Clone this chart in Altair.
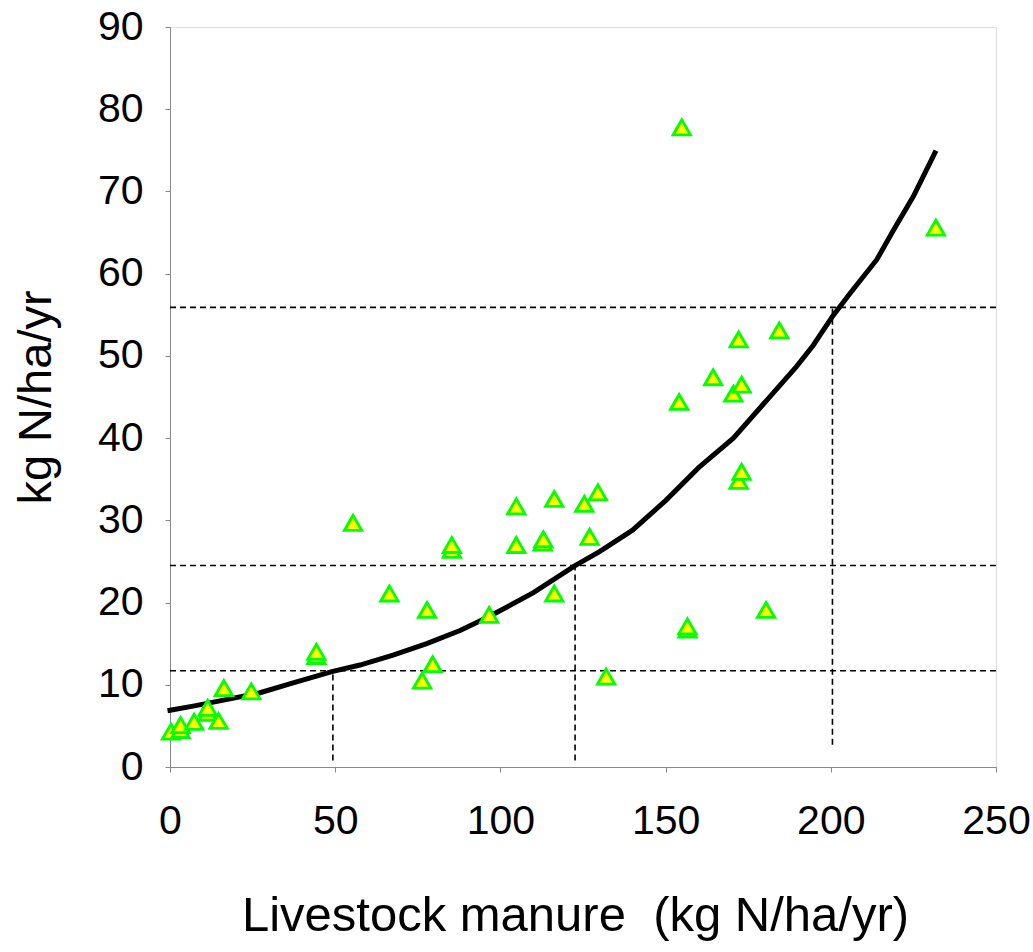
import altair as alt
import pandas as pd

# Observed data points (livestock manure vs kg N/ha/yr)
pt_x = [0.3, 3.2, 3.2, 7.3, 11.4, 11.4, 14.7, 16.3, 24.6, 44.3, 44.3, 55.4, 66.4, 76.3,
        77.8, 79.5, 85.3, 85.3, 96.6, 104.8, 104.8, 112.8, 113.0, 116.3, 116.3, 125.4,
        127.0, 129.5, 132.0, 154.1, 154.9, 156.6, 156.6, 164.4, 170.5, 172.1, 173.0,
        172.1, 173.0, 180.4, 184.4, 231.8]
pt_y = [4.3, 4.5, 5.1, 5.5, 6.6, 7.2, 5.6, 9.6, 9.2, 13.5, 14.0, 29.7, 21.1, 10.5,
        19.1, 12.5, 26.4, 27.0, 18.5, 31.7, 27.0, 27.3, 27.7, 32.6, 21.1, 32.0,
        28.0, 33.4, 11.0, 44.4, 77.8, 16.7, 17.1, 47.4, 45.4, 52.0, 46.5,
        34.8, 35.9, 19.1, 53.1, 65.6]

# Fitted curve
curve_x = [0, 7, 17, 27, 37, 49, 57.5, 67.5, 77.7, 87.8, 96.6, 110, 122.6, 130, 140,
           150, 160, 170.5, 180.6, 189.6, 194.7, 200.5, 205.8, 213.9, 219, 225, 231.5]
curve_y = [6.9, 7.4, 8.2, 9.0, 10.2, 11.6, 12.4, 13.6, 15.0, 16.6, 18.3, 21.2, 24.5, 26.2,
           28.8, 32.4, 36.4, 40.0, 44.6, 48.7, 51.3, 54.8, 57.6, 61.7, 65.3, 69.4, 74.7]

# Reference (dashed) lines
hline_y = [11.7, 24.5, 55.9]
vline_x = [49.3, 122.6, 200.5]
vline_top = [11.7, 24.5, 55.9]
vline_bottom = [0.8, 0.8, 2.7]

x_ticks = [0, 50, 100, 150, 200, 250]
y_ticks = [0, 10, 20, 30, 40, 50, 60, 70, 80, 90]

x_title = "Livestock manure\u00a0\u00a0(kg N/ha/yr)"
y_title = "kg N/ha/yr"

pts = pd.DataFrame({"x": pt_x, "y": pt_y})
crv = pd.DataFrame({"x": curve_x, "y": curve_y, "order": list(range(len(curve_x)))})
hl = pd.DataFrame({"y": hline_y})
vl = pd.DataFrame({"x": vline_x, "y": vline_bottom, "y2": vline_top})

FONT = "Liberation Sans"

xscale = alt.Scale(domain=[0, 250], nice=False, zero=False)
yscale = alt.Scale(domain=[0, 90], nice=False, zero=False)

xaxis = alt.Axis(values=x_ticks, title=x_title, grid=False, labelFlush=False,
                 labelFontSize=41, titleFontSize=49, labelPadding=29, titlePadding=50,
                 titleX=405, titleFontWeight=400)
yaxis = alt.Axis(values=y_ticks, title=y_title, grid=False, labelFlush=False,
                 labelFontSize=41, titleFontSize=47, labelPadding=22, titlePadding=37,
                 titleFontWeight=400)

h_rules = alt.Chart(hl).mark_rule(color="black", strokeWidth=1.6, strokeDash=[6, 4]).encode(
    y=alt.Y("y:Q", scale=yscale, axis=yaxis)
)
v_rules = alt.Chart(vl).mark_rule(color="black", strokeWidth=1.6, strokeDash=[6, 4]).encode(
    x=alt.X("x:Q", scale=xscale, axis=xaxis),
    y=alt.Y("y:Q", scale=yscale, axis=yaxis),
    y2="y2:Q",
)
line = alt.Chart(crv).mark_line(color="black", strokeWidth=5, strokeCap="square").encode(
    x=alt.X("x:Q", scale=xscale, axis=xaxis),
    y=alt.Y("y:Q", scale=yscale, axis=yaxis),
    order="order:Q",
)
points = alt.Chart(pts).mark_point(
    shape="triangle-up", size=300, filled=True, fill="#FFFF00", stroke="#00FF00",
    strokeWidth=2.8, opacity=1, fillOpacity=1,
).encode(
    x=alt.X("x:Q", scale=xscale, axis=xaxis),
    y=alt.Y("y:Q", scale=yscale, axis=yaxis),
)

chart = alt.layer(h_rules, v_rules, line, points).properties(
    width=826, height=740,
    padding={"left": 12, "top": 6, "right": 0, "bottom": 2},
).configure_view(
    stroke="#888888", strokeWidth=2.5
).configure_axis(
    domainColor="black", domainWidth=2.5, tickColor="black", tickWidth=2.5, tickSize=13,
    labelFont=FONT, titleFont=FONT, labelColor="black", titleColor="black",
    titleFontWeight=400,
).configure(background="white")

chart.save("out.html", embed_options={"renderer": "svg", "actions": False})
